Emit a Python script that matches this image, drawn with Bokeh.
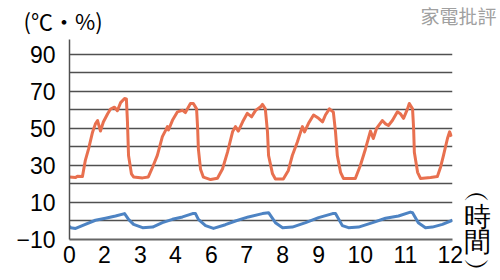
from bokeh.plotting import figure
from bokeh.layouts import column, row
from bokeh.models import Range1d, FixedTicker, Label
from bokeh.core.properties import value
from bokeh.embed import file_html
from bokeh.resources import INLINE

# x-axis tick labels (hours) and their positions along the axis
tick_labels = ["0", "2", "3", "4", "6", "7", "8", "9", "10", "11", "12"]
tick_pos = [0, 0.97, 1.97, 2.94, 3.94, 4.92, 5.92, 6.92, 8.08, 9.33, 10.58]
y_labels = [-10, 10, 30, 50, 70, 90]
unit_text = "(℃・%)"
brand_text = "家電批評"
time_text = "︵\n時\n間\n︶"

# orange series
orange_x = [0.00, 0.17, 0.22, 0.36, 0.44, 0.53, 0.64, 0.72, 0.78, 0.86, 0.94, 1.06, 1.14, 1.25,
            1.33, 1.42, 1.53, 1.58, 1.61, 1.64, 1.72, 1.78, 2.03, 2.19, 2.31, 2.44, 2.58, 2.67,
            2.72, 2.75, 2.86, 3.00, 3.14, 3.22, 3.36, 3.44, 3.53, 3.56, 3.58, 3.64, 3.72, 3.92,
            4.11, 4.25, 4.39, 4.53, 4.61, 4.69, 4.81, 4.94, 5.06, 5.17, 5.31, 5.36, 5.44, 5.50,
            5.53, 5.64, 5.72, 5.94, 6.08, 6.19, 6.33, 6.47, 6.53, 6.64, 6.78, 6.92, 7.03, 7.11,
            7.22, 7.33, 7.39, 7.44, 7.53, 7.61, 7.94, 8.08, 8.22, 8.36, 8.44, 8.53, 8.69, 8.78,
            8.86, 8.97, 9.11, 9.19, 9.28, 9.39, 9.44, 9.53, 9.56, 9.58, 9.67, 9.75, 10.03, 10.22,
            10.31, 10.39, 10.50, 10.56, 10.61]
orange_y = [23.8, 23.5, 24.2, 24.0, 32.8, 39.0, 48.0, 52.5, 54.3, 48.6, 53.5, 58.0, 60.5, 61.5,
            59.6, 64.0, 66.2, 66.0, 53.6, 35.4, 25.5, 23.8, 23.3, 23.8, 29.2, 35.5, 45.6, 49.0,
            51.0, 49.2, 54.4, 59.0, 59.8, 58.6, 63.5, 63.5, 60.6, 50.0, 39.0, 28.0, 23.7, 22.4,
            23.1, 28.1, 37.2, 48.2, 51.0, 48.6, 53.6, 58.2, 56.3, 59.8, 61.7, 63.0, 60.6, 48.2,
            35.4, 25.5, 22.7, 22.7, 27.3, 35.4, 42.7, 51.0, 48.2, 52.8, 57.3, 55.5, 53.6, 57.3,
            60.6, 58.8, 48.2, 35.4, 26.3, 23.0, 23.0, 30.0, 38.8, 48.6, 44.6, 50.0, 54.3, 52.5,
            51.6, 54.3, 59.0, 58.0, 55.5, 60.6, 63.5, 60.6, 50.0, 37.2, 26.3, 23.0, 23.5, 24.0,
            29.2, 35.5, 44.6, 48.2, 45.6]

# blue series
blue_x = [0.00, 0.03, 0.17, 0.44, 0.72, 1.00, 1.28, 1.53, 1.64, 1.78, 2.03, 2.31, 2.58, 2.86,
          3.14, 3.42, 3.50, 3.58, 3.78, 4.00, 4.33, 4.61, 4.97, 5.36, 5.53, 5.72, 5.92, 6.19,
          6.56, 6.92, 7.31, 7.39, 7.58, 7.75, 8.03, 8.42, 8.78, 9.14, 9.47, 9.53, 9.69, 9.89,
          10.08, 10.36, 10.64]
blue_y = [-2.8, -3.6, -4.0, -1.8, 0.4, 1.5, 2.7, 4.0, 0.9, -1.8, -3.6, -3.3, -0.9, 0.9,
          2.2, 4.0, 4.0, 0.9, -2.5, -4.0, -2.0, 0.0, 2.2, 4.0, 4.5, -0.9, -3.6, -3.3,
          -0.9, 1.8, 4.0, 4.0, -2.5, -3.6, -3.3, -0.9, 1.5, 2.7, 4.8, 4.5, -0.9, -3.6,
          -3.3, -1.8, 0.4]

cjk = "Noto Sans CJK JP"
font = "Liberation Sans"
Y_TOP = 98.1  # value at the top border line of the plot area

# ---- top strip: unit label and watermark ----
top = figure(width=500, height=38, output_backend="svg", toolbar_location=None,
             x_range=Range1d(0, 500), y_range=Range1d(0, 38),
             x_axis_type=None, y_axis_type=None, min_border=0)
top.outline_line_color = None
top.background_fill_color = "white"
top.border_fill_color = "white"
top.xgrid.visible = False
top.ygrid.visible = False
top.text(x=[23], y=[19], text=[unit_text], text_font=value(cjk), text_font_size="22px",
         text_color="black", text_baseline="middle", text_align="left")
top.text(x=[420], y=[23], text=[brand_text], text_font=value("Noto Sans CJK TC"),
         text_font_size="19px", text_color="#a0a0a0", text_baseline="middle", text_align="left")

# ---- main chart ----
p = figure(width=500, height=242, output_backend="svg", toolbar_location=None,
           x_range=Range1d(0, 10.64), y_range=Range1d(-10, Y_TOP),
           min_border_left=69, min_border_right=48, min_border_top=1, min_border_bottom=41)
p.outline_line_color = None
p.background_fill_color = "white"
p.border_fill_color = "white"

p.xgrid.visible = False
p.ygrid.ticker = FixedTicker(ticks=list(range(-10, 91, 10)) + [Y_TOP])
p.ygrid.grid_line_color = "#505050"
p.ygrid.grid_line_width = 1.5

p.yaxis.ticker = FixedTicker(ticks=y_labels)
p.yaxis.axis_line_color = "#505050"
p.yaxis.axis_line_width = 1.5
p.yaxis.major_tick_line_color = None
p.yaxis.minor_tick_line_color = None
p.yaxis.major_tick_out = 0
p.yaxis.major_label_standoff = 14
p.yaxis.major_label_text_font = font
p.yaxis.major_label_text_font_size = "23px"
p.yaxis.major_label_text_color = "black"

p.xaxis.ticker = FixedTicker(ticks=tick_pos)
p.xaxis.major_label_overrides = {pos: lab for pos, lab in zip(tick_pos, tick_labels)}
p.xaxis.axis_line_color = "#666666"
p.xaxis.axis_line_width = 2
p.xaxis.major_tick_line_color = None
p.xaxis.minor_tick_line_color = None
p.xaxis.major_tick_out = 0
p.xaxis.major_label_standoff = 6
p.xaxis.major_label_text_font = font
p.xaxis.major_label_text_font_size = "23px"
p.xaxis.major_label_text_color = "black"

p.line(orange_x, orange_y, line_color="#e8704f", line_width=3, line_join="round")
p.line(blue_x, blue_y, line_color="#4d83c3", line_width=3, line_join="round")

# vertical "(時間)" in the right border panel (canvas pixel units of this figure)
p.add_layout(Label(x=476.5, y=191, x_units="canvas", y_units="canvas", text=time_text,
                   text_font=font, text_font_size="27px", text_color="black",
                   text_line_height=0.84, text_baseline="middle", text_align="center"),
             "right")

layout = column(top, row(p, spacing=0), spacing=0)
open("out.html", "w").write(file_html(layout, INLINE))
